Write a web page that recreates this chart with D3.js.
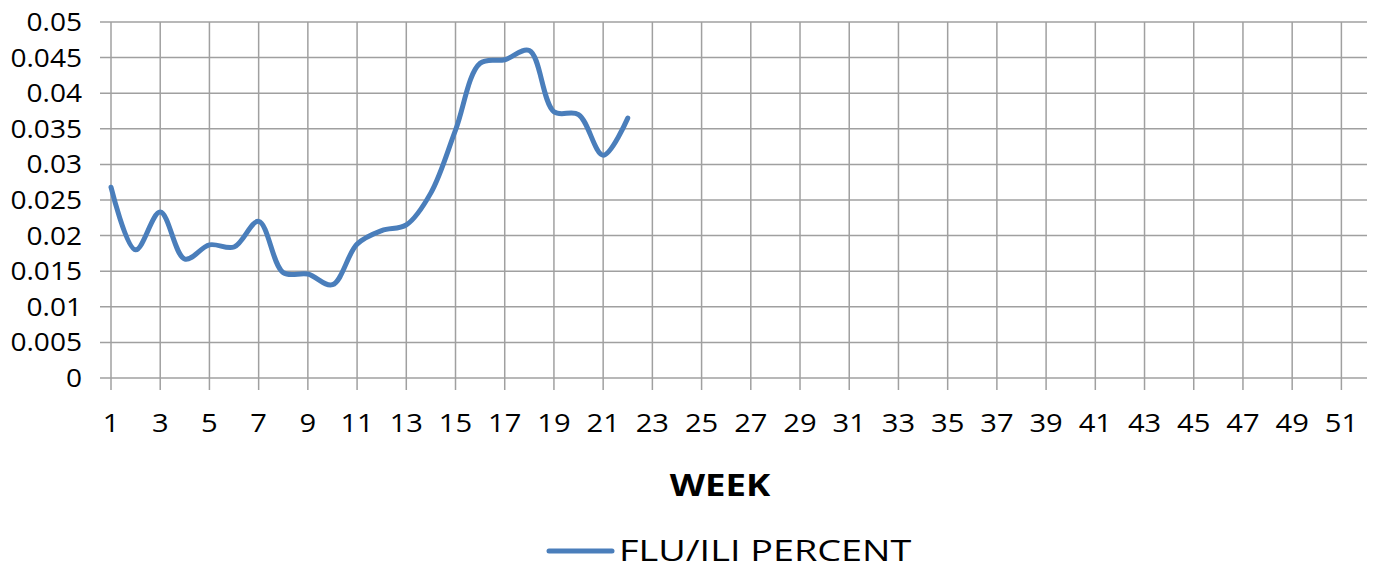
<!DOCTYPE html>
<html>
<head>
<meta charset="utf-8">
<script src="https://cdn.jsdelivr.net/npm/d3@7"></script>
<style>
  body { margin: 0; background: #fff; }
  text { font-family: "Open Sans", sans-serif; fill: #000; }
</style>
</head>
<body>
<div id="chart"></div>
<script>
// weekly values
var weeks = [1, 2, 3, 4, 5, 6, 7, 8, 9, 10, 11, 12, 13, 14, 15, 16, 17, 18, 19, 20, 21, 22];
var fluPercent = [0.0268, 0.018, 0.0233, 0.0167, 0.0187, 0.0184, 0.022, 0.0148, 0.0146, 0.0131, 0.0188,
  0.0207, 0.0215, 0.026, 0.0348, 0.0442, 0.0447, 0.046, 0.0374, 0.037, 0.0313, 0.0365];
var xTicks = d3.range(1, 52, 2);
var yTicks = [0, 0.005, 0.01, 0.015, 0.02, 0.025, 0.03, 0.035, 0.04, 0.045, 0.05];
var seriesName = "FLU/ILI PERCENT";
var xTitle = "WEEK";

var width = 1377, height = 569;

var svg = d3.select("#chart")
  .append("svg")
  .attr("width", width)
  .attr("height", height);

var x = d3.scaleLinear().domain([1, 52]).range([111, 1366]);
var y = d3.scaleLinear().domain([0, 0.05]).range([378, 22]);

// horizontal grid + left ticks
svg.selectAll(".hgrid")
  .data(yTicks)
  .enter()
  .append("line")
  .attr("x1", 100)
  .attr("x2", 1367)
  .attr("y1", function(d) { return y(d); })
  .attr("y2", function(d) { return y(d); })
  .style("stroke", "#a0a0a0")
  .style("stroke-width", 1.5);

// vertical grid + bottom ticks
svg.selectAll(".vgrid")
  .data(xTicks)
  .enter()
  .append("line")
  .attr("x1", function(d) { return x(d); })
  .attr("x2", function(d) { return x(d); })
  .attr("y1", y(0.05))
  .attr("y2", 390)
  .style("stroke", "#a0a0a0")
  .style("stroke-width", 1.5);

svg.selectAll(".ylab")
  .data(yTicks)
  .enter()
  .append("text")
  .attr("transform", function(d) { return "translate(82," + (y(d) + 9) + ") scale(1.08,1)"; })
  .attr("text-anchor", "end")
  .style("font-size", "26px")
  .text(function(d) { return String(+d.toFixed(3)); });

svg.selectAll(".xlab")
  .data(xTicks)
  .enter()
  .append("text")
  .attr("transform", function(d) { return "translate(" + x(d) + ",432) scale(1.12,1)"; })
  .attr("text-anchor", "middle")
  .style("font-size", "26px")
  .text(function(d) { return d; });

svg.append("text")
  .attr("transform", "translate(720,496) scale(1.22,1)")
  .attr("text-anchor", "middle")
  .style("font-size", "30px")
  .style("font-weight", "bold")
  .text(xTitle);

var line = d3.line()
  .x(function(d, i) { return x(weeks[i]); })
  .y(function(d) { return y(d); })
  .curve(d3.curveCatmullRom.alpha(0.5));

svg.append("path")
  .datum(fluPercent)
  .attr("d", line)
  .style("fill", "none")
  .style("stroke", "#4a7ebb")
  .style("stroke-width", 5)
  .style("stroke-linecap", "round");

// legend
svg.append("line")
  .attr("x1", 549)
  .attr("x2", 612)
  .attr("y1", 551)
  .attr("y2", 551)
  .style("stroke", "#4a7ebb")
  .style("stroke-width", 5)
  .style("stroke-linecap", "round");

svg.append("text")
  .attr("transform", "translate(619,561) scale(1.26,1)")
  .style("font-size", "30px")
  .text(seriesName);
</script>
</body>
</html>
